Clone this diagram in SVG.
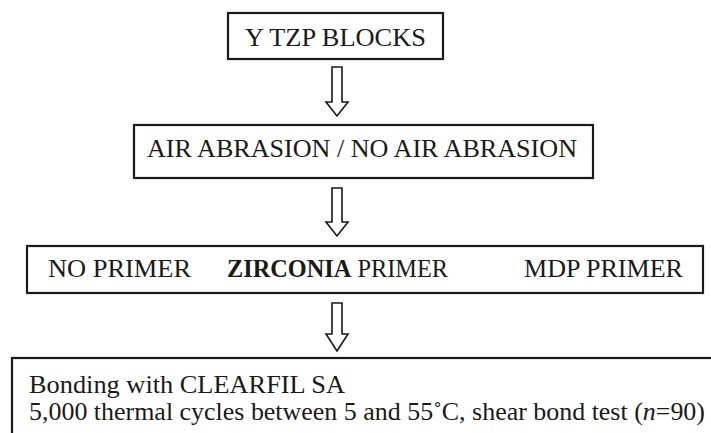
<svg xmlns="http://www.w3.org/2000/svg" width="711" height="433" viewBox="0 0 711 433">
<style>
.box{fill:#fff;stroke:#1a1a1a;stroke-width:2.2}
.t{font-family:"Liberation Serif","Tinos","Times New Roman","DejaVu Serif","Noto Serif",serif;font-size:26px;fill:#1a1a1a}
.arr{fill:#fff;stroke:#1a1a1a;stroke-width:1.6;stroke-linejoin:miter}
</style>
<rect x="0" y="0" width="711" height="433" fill="#fff"/>
<g id="connectors">
<path class="arr" d="M332,67 H342 V102 H348 L337,116 L326,102 H332 Z"/>
<path class="arr" d="M332,188 H342 V222 H348 L337,236 L326,222 H332 Z"/>
<path class="arr" d="M332,303 H342 V334 H348 L337,351 L326,334 H332 Z"/>
</g>
<g id="node-ytzp">
<rect class="box" x="228" y="13" width="215" height="46"/>
<text class="t" x="335.5" y="46" text-anchor="middle" textLength="181" lengthAdjust="spacingAndGlyphs">Y TZP BLOCKS</text>
</g>
<g id="node-abrasion">
<rect class="box" x="134" y="125" width="459" height="53"/>
<text class="t" x="147" y="157" textLength="430" lengthAdjust="spacingAndGlyphs">AIR ABRASION / NO AIR ABRASION</text>
</g>
<g id="node-primer">
<rect class="box" x="27" y="246" width="676" height="47"/>
<text class="t" x="48" y="277" textLength="143" lengthAdjust="spacingAndGlyphs">NO PRIMER</text>
<text class="t" x="227" y="277" textLength="221" lengthAdjust="spacingAndGlyphs"><tspan font-weight="bold">ZIRCONIA</tspan> PRIMER</text>
<text class="t" x="524" y="277" textLength="159" lengthAdjust="spacingAndGlyphs">MDP PRIMER</text>
</g>
<g id="node-bonding">
<rect class="box" x="12" y="358" width="710" height="90"/>
<text class="t" x="29" y="393" textLength="316" lengthAdjust="spacingAndGlyphs">Bonding with CLEARFIL SA</text>
<text class="t" x="29" y="420" textLength="676" lengthAdjust="spacingAndGlyphs">5,000 thermal cycles between 5 and 55˚C, shear bond test (<tspan font-style="italic">n</tspan>=90)</text>
</g>
</svg>
